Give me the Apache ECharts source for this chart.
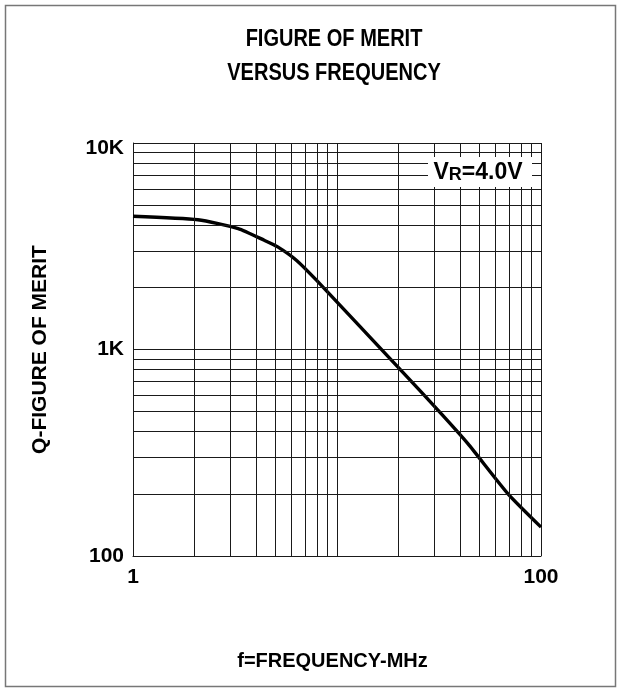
<!DOCTYPE html>
<html>
<head>
<meta charset="utf-8">
<script src="https://cdn.jsdelivr.net/npm/echarts@6/dist/echarts.min.js"></script>
<style>
html,body{margin:0;padding:0;background:#fff;}
#chart{width:617px;height:688px;}
</style>
</head>
<body>
<div id="chart"></div>
<script>
// ---- data ----
var titleLines = ['FIGURE OF MERIT', 'VERSUS FREQUENCY'];
var xName = 'f=FREQUENCY-MHz';
var yName = 'Q-FIGURE OF MERIT';
var conditionLabel = ['V', 'R', '=4.0V'];
// frequency (MHz) and Q
var freq = [1, 2.08, 3.28, 4.4, 5.12, 6.34, 7.95, 20.6, 32.4, 43.8, 68.9, 100];
var qValues = [4420, 4250, 3850, 3380, 3140, 2700, 2160, 793, 489, 350, 200, 138];
// axis ranges and labels
var xMin = 1, xMax = 100;
var yMin = 100, yMax = 10000;
var xTickLabels = {1: '1', 100: '100'};
var yTickLabels = {100: '100', 1000: '1K', 10000: '{top|10K}'};
// minor grid values
var xMinorGrid = [2, 3, 4, 5, 6, 7, 8, 9, 20, 30, 40, 50, 60, 70, 80, 90];
var yMinorGrid = [200, 300, 400, 500, 600, 700, 800, 900, 2000, 3000, 4000, 5000, 6000, 7000, 8000, 9000];

var FONT = "'Liberation Sans', Arial, Helvetica, sans-serif";
var GRID_COLOR = '#1a1a1a';

var chart = echarts.init(document.getElementById('chart'), null, {renderer: 'canvas'});

var minorLines = [];
xMinorGrid.forEach(function (v) { minorLines.push({xAxis: v}); });
yMinorGrid.forEach(function (v) { minorLines.push({yAxis: v}); });

function titleText(txt, y) {
  return {
    type: 'text', x: 334, y: y, scaleX: 0.87, silent: true, z: 10,
    style: {
      text: txt, x: 0, y: 0, align: 'center', verticalAlign: 'middle',
      fontFamily: FONT, fontWeight: 'bold', fontSize: 23, fill: '#000'
    }
  };
}

var option = {
  backgroundColor: '#fff',
  animation: false,
  grid: {left: 133, top: 143, width: 408, height: 413, containLabel: false},
  xAxis: {
    type: 'log', logBase: 10, min: xMin, max: xMax,
    name: xName, nameLocation: 'middle', nameGap: 95,
    nameTextStyle: {fontFamily: FONT, fontWeight: 'bold', fontSize: 20, color: '#000', padding: [0, 9, 0, 0]},
    axisLine: {show: true, lineStyle: {color: GRID_COLOR, width: 1}},
    axisTick: {show: false},
    axisLabel: {
      margin: 11, color: '#000', fontFamily: FONT, fontWeight: 'bold', fontSize: 21,
      formatter: function (v) { return xTickLabels[Math.round(v)] || ''; }
    },
    splitLine: {show: true, lineStyle: {color: GRID_COLOR, width: 1}}
  },
  yAxis: {
    type: 'log', logBase: 10, min: yMin, max: yMax,
    name: yName, nameLocation: 'middle', nameGap: 82, nameRotate: 90,
    nameTextStyle: {fontFamily: FONT, fontWeight: 'bold', fontSize: 21, color: '#000'},
    axisLine: {show: true, lineStyle: {color: GRID_COLOR, width: 1}},
    axisTick: {show: false},
    axisLabel: {
      margin: 9, color: '#000', fontFamily: FONT, fontWeight: 'bold', fontSize: 21,
      formatter: function (v) { return yTickLabels[Math.round(v)] || ''; },
      rich: {
        top: {fontFamily: FONT, fontWeight: 'bold', fontSize: 21, color: '#000', padding: [10, 0, 0, 0]}
      }
    },
    splitLine: {show: true, lineStyle: {color: GRID_COLOR, width: 1}}
  },
  graphic: [
    {
      type: 'rect', left: 3, top: 3, z: -10, silent: true,
      shape: {width: 610, height: 681},
      style: {fill: 'none', stroke: '#777', lineWidth: 1.5}
    },
    titleText(titleLines[0], 40),
    titleText(titleLines[1], 74),
    {
      type: 'rect', left: 428, top: 157, z: 100, silent: true,
      shape: {width: 104, height: 30},
      style: {fill: '#fff'}
    },
    {
      type: 'text', x: 478, y: 171, z: 101, silent: true,
      style: {
        text: '{a|' + conditionLabel[0] + '}{b|' + conditionLabel[1] + '}{a|' + conditionLabel[2] + '}',
        align: 'center', verticalAlign: 'middle',
        rich: {
          a: {fontFamily: FONT, fontWeight: 'bold', fontSize: 23, fill: '#000', verticalAlign: 'bottom', lineHeight: 27},
          b: {fontFamily: FONT, fontWeight: 'bold', fontSize: 18, fill: '#000', verticalAlign: 'bottom', lineHeight: 27}
        }
      }
    }
  ],
  series: [
    {
      type: 'line',
      data: [],
      silent: true,
      markLine: {
        silent: true, symbol: ['none', 'none'], animation: false,
        label: {show: false},
        lineStyle: {color: GRID_COLOR, width: 1, type: 'solid'},
        emphasis: {disabled: true},
        data: minorLines
      }
    },
    {
      type: 'line',
      data: freq.map(function (f, i) { return [f, qValues[i]]; }),
      showSymbol: false, symbol: 'none', smooth: 0.2,
      lineStyle: {color: '#000', width: 3.4},
      z: 3
    }
  ]
};
chart.setOption(option);
</script>
</body>
</html>
